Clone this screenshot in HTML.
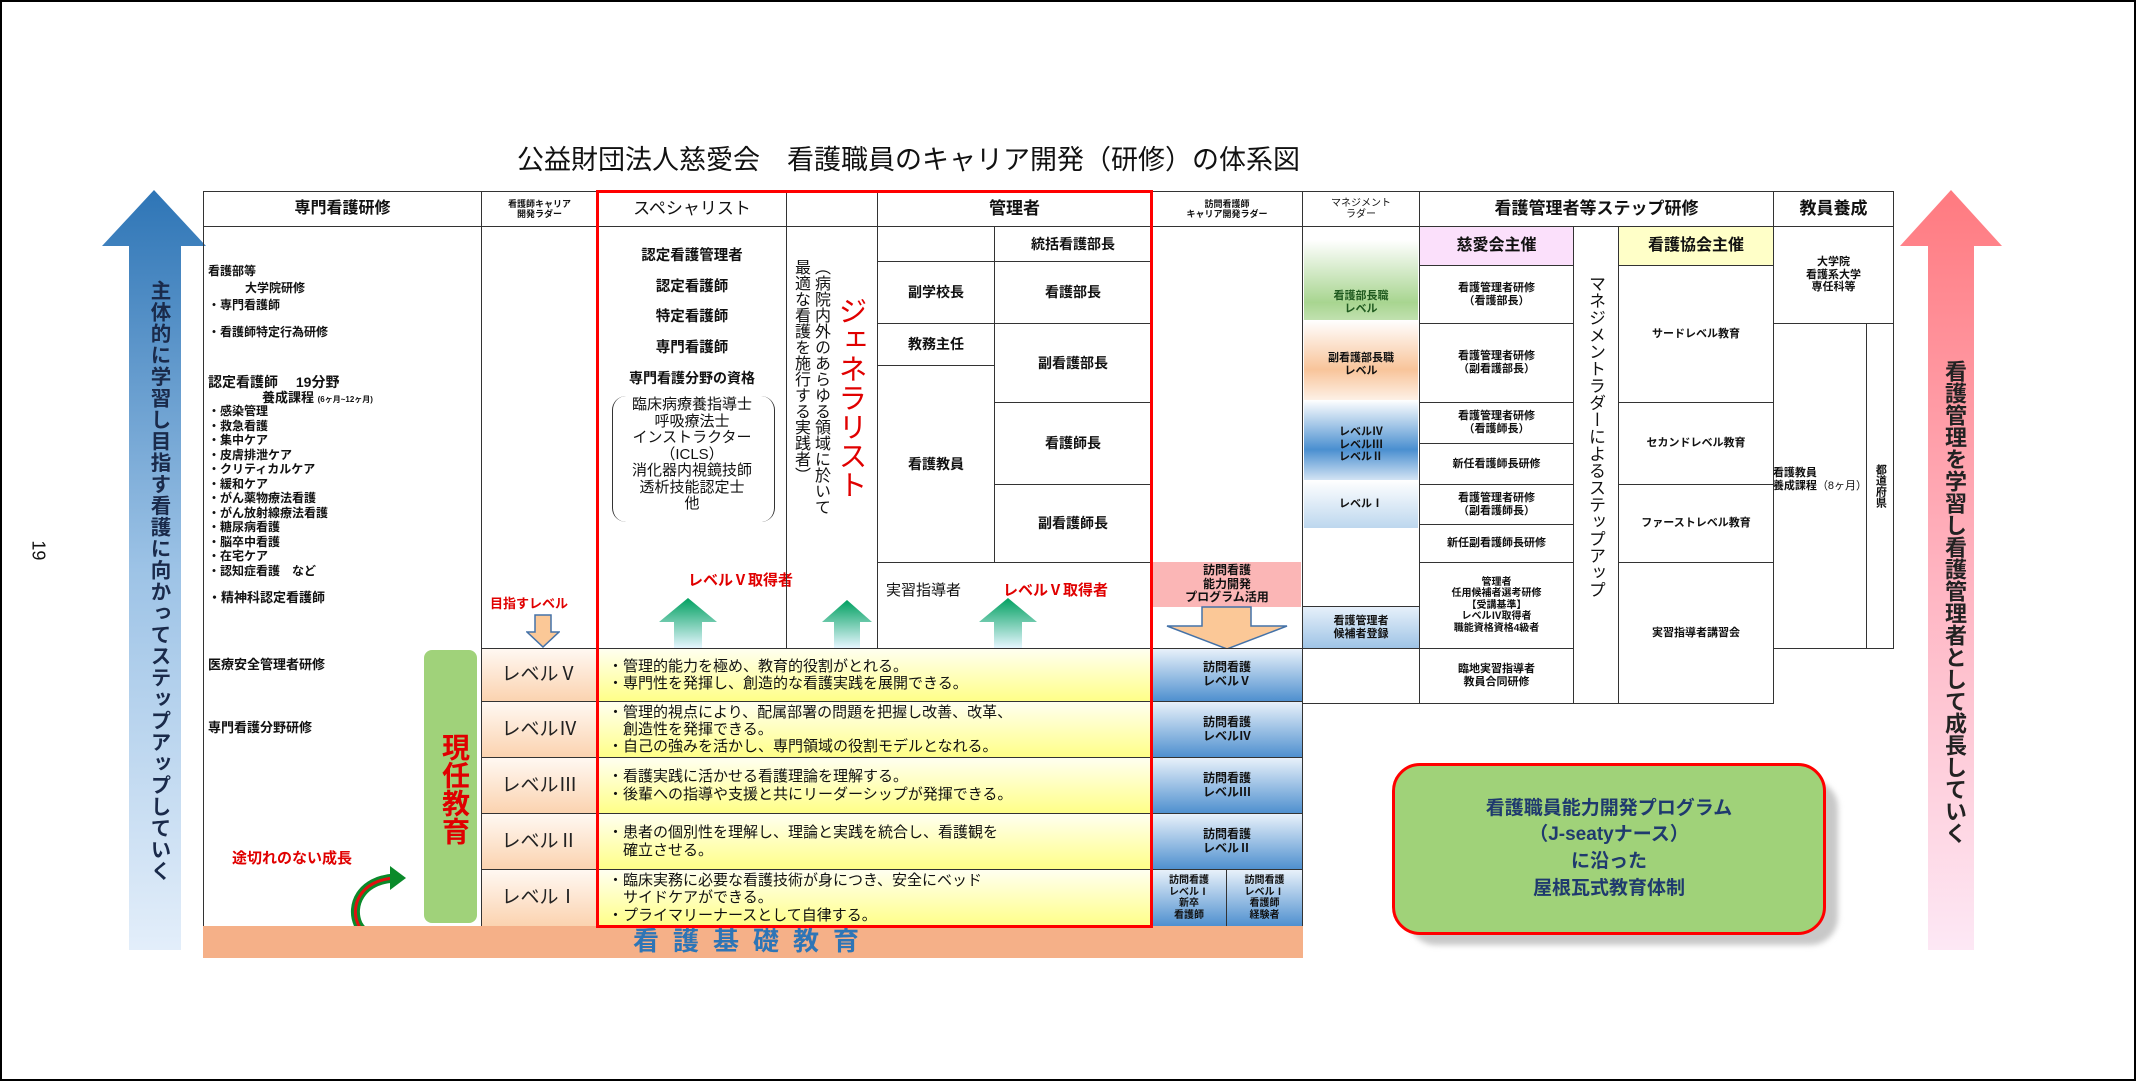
<!DOCTYPE html>
<html><head><meta charset="utf-8">
<style>
*{margin:0;padding:0;box-sizing:border-box}
body{width:2136px;height:1081px;position:relative;background:#fff;overflow:hidden;font-family:"Liberation Sans","Noto Sans CJK JP",sans-serif;color:#111}
.c{position:absolute;border:1.5px solid #333;display:flex;align-items:center;justify-content:center;text-align:center;font-weight:bold;line-height:1.15}
.t{position:absolute;font-weight:bold;white-space:nowrap;line-height:1.15}
.v{writing-mode:vertical-rl;position:absolute;font-weight:bold;white-space:nowrap}
.lv{background:linear-gradient(#fff8f2,#fbd3b0);font-size:19px;font-weight:normal;color:#222}
.yl{background:linear-gradient(#fffff0,#ffff88);justify-content:flex-start;text-align:left;padding-left:10px;font-size:15px;font-weight:normal}
.bl{background:linear-gradient(#e8f1fa,#4f90cf);font-size:12px}
.red{color:#e00000}
</style></head><body>
<div style="position:absolute;left:0;top:0;width:2136px;height:1081px;border:2px solid #000"></div>

<div class="t" style="left:517px;top:145px;font-size:27px;font-weight:normal">公益財団法人慈愛会　看護職員のキャリア開発（研修）の体系図</div>

<!-- left arrow -->
<svg style="position:absolute;left:100px;top:190px" width="108" height="762">
<defs><linearGradient id="g1" x1="0" y1="0" x2="0" y2="1"><stop offset="0" stop-color="#2e75b6"/><stop offset="0.5" stop-color="#9dc3e6"/><stop offset="1" stop-color="#e3eefa"/></linearGradient>
<linearGradient id="g2" x1="0" y1="0" x2="0" y2="1"><stop offset="0" stop-color="#ff7a80"/><stop offset="0.5" stop-color="#ffb3c0"/><stop offset="1" stop-color="#fde8f5"/></linearGradient></defs>
<polygon points="54,0 106,56 81,56 81,760 29,760 29,56 2,56" fill="url(#g1)"/></svg>
<div class="v" style="left:143px;top:280px;font-size:20.5px;letter-spacing:1px;color:#1a2a4a">主体的に学習し目指す看護に向かってステップアップしていく</div>
<div class="t" style="left:28px;top:540px;font-size:18px;font-weight:normal;transform:rotate(90deg)">19</div>

<!-- right arrow -->
<svg style="position:absolute;left:1898px;top:190px" width="106" height="762">
<polygon points="53,0 104,56 76,56 76,760 30,760 30,56 2,56" fill="url(#g2)"/></svg>
<div class="v" style="left:1938px;top:360px;font-size:22px;color:#222">看護管理を学習し看護管理者として成長していく</div>

<!-- header row -->
<div class="c" style="left:203px;top:191px;width:279px;height:36px;font-size:16px">専門看護研修</div>
<div class="c" style="left:481px;top:191px;width:117px;height:36px;font-size:9px">看護師キャリア<br>開発ラダー</div>
<div class="c" style="left:597px;top:191px;width:190px;height:36px;font-size:17px;font-weight:normal">スペシャリスト</div>
<div class="c" style="left:786px;top:191px;width:92px;height:36px"></div>
<div class="c" style="left:877px;top:191px;width:275px;height:36px;font-size:17px">管理者</div>
<div class="c" style="left:1151px;top:191px;width:152px;height:36px;font-size:9px">訪問看護師<br>キャリア開発ラダー</div>
<div class="c" style="left:1302px;top:191px;width:118px;height:36px;font-size:10px;font-weight:normal">マネジメント<br>ラダー</div>
<div class="c" style="left:1419px;top:191px;width:355px;height:36px;font-size:17px">看護管理者等ステップ研修</div>
<div class="c" style="left:1773px;top:191px;width:121px;height:36px;font-size:17px">教員養成</div>

<!-- left column body -->
<div class="c" style="left:203px;top:226px;width:279px;height:701px"></div>
<div class="t" style="left:208px;top:265px;font-size:12px">看護部等</div>
<div class="t" style="left:245px;top:282px;font-size:12px">大学院研修</div>
<div class="t" style="left:208px;top:299px;font-size:12px">・専門看護師</div>
<div class="t" style="left:208px;top:326px;font-size:12px">・看護師特定行為研修</div>
<div class="t" style="left:208px;top:374px;font-size:14px">認定看護師　 19分野</div>
<div class="t" style="left:262px;top:391px;font-size:13px">養成課程 <span style="font-size:8px">(6ヶ月~12ヶ月)</span></div>
<div style="position:absolute;left:208px;top:404px;font-size:12px;font-weight:bold;line-height:14.5px;white-space:pre">・感染管理
・救急看護
・集中ケア
・皮膚排泄ケア
・クリティカルケア
・緩和ケア
・がん薬物療法看護
・がん放射線療法看護
・糖尿病看護
・脳卒中看護
・在宅ケア
・認知症看護　など</div>
<div class="t" style="left:208px;top:591px;font-size:13px">・精神科認定看護師</div>
<div class="t" style="left:208px;top:658px;font-size:13px">医療安全管理者研修</div>
<div class="t" style="left:208px;top:721px;font-size:13px">専門看護分野研修</div>
<div class="c" style="left:424px;top:650px;width:53px;height:273px;background:#a0d27a;border:none;border-radius:8px;"></div>
<div class="v" style="left:434px;top:733px;font-size:28px;color:#e00000">現任教育</div>
<div class="t red" style="left:232px;top:850px;font-size:15px">途切れのない成長</div>
<svg style="position:absolute;left:340px;top:866px" width="70" height="80">
<path d="M55,12 C20,14 10,40 18,58 C24,70 40,74 55,74" fill="none" stroke="#0a8a2a" stroke-width="9"/>
<path d="M55,12 C20,14 10,40 18,58 C24,70 40,74 55,74" fill="none" stroke="#e01010" stroke-width="3"/>
<polygon points="50,0 66,12 50,24" fill="#0a8a2a"/></svg>

<!-- ladder col -->
<div class="c" style="left:481px;top:226px;width:117px;height:423px"></div>
<div class="t red" style="left:490px;top:597px;font-size:13px">目指すレベル</div>
<svg style="position:absolute;left:526px;top:614px" width="34" height="34"><polygon points="9,1 25,1 25,18 33,18 17,33 1,18 9,18" fill="#fbc897" stroke="#4472a8" stroke-width="1.5"/></svg>

<!-- specialist -->
<div class="c" style="left:597px;top:226px;width:190px;height:423px"></div>
<div class="t" style="left:597px;top:241px;width:190px;text-align:center;font-size:14.5px;line-height:30.5px">認定看護管理者<br>認定看護師<br>特定看護師<br>専門看護師<br><span style="font-size:14px">専門看護分野の資格</span></div>
<div style="position:absolute;left:612px;top:396px;width:163px;height:126px;border:1.5px solid #333;border-top:none;border-bottom:none;border-radius:14px"></div>
<div class="t" style="left:604px;top:397px;width:176px;text-align:center;font-size:15px;font-weight:normal;line-height:16.5px">臨床病療養指導士<br>呼吸療法士<br>インストラクター<br>（ICLS）<br>消化器内視鏡技師<br>透析技能認定士<br>他</div>
<div class="t red" style="left:688px;top:572px;font-size:15px">レベルⅤ取得者</div>

<!-- generalist -->
<div class="c" style="left:786px;top:226px;width:92px;height:423px"></div>
<div class="v" style="left:790px;top:259px;font-size:16px;line-height:20px;font-weight:normal">（病院内外のあらゆる領域に於いて<br>最適な看護を施行する実践者）</div>
<div class="v red" style="left:829px;top:296px;font-size:29px;font-weight:normal">ジェネラリスト</div>

<!-- manager -->
<div class="c" style="left:877px;top:226px;width:118px;height:36px"></div>
<div class="c" style="left:994px;top:226px;width:158px;height:36px;font-size:14px">統括看護部長</div>
<div class="c" style="left:877px;top:261px;width:118px;height:63px;font-size:14px">副学校長</div>
<div class="c" style="left:994px;top:261px;width:158px;height:63px;font-size:14px">看護部長</div>
<div class="c" style="left:877px;top:323px;width:118px;height:43px;font-size:14px">教務主任</div>
<div class="c" style="left:877px;top:365px;width:118px;height:198px;font-size:14px">看護教員</div>
<div class="c" style="left:994px;top:323px;width:158px;height:80px;font-size:14px">副看護部長</div>
<div class="c" style="left:994px;top:402px;width:158px;height:83px;font-size:14px">看護師長</div>
<div class="c" style="left:994px;top:484px;width:158px;height:79px;font-size:14px">副看護師長</div>
<div class="c" style="left:877px;top:562px;width:275px;height:87px"></div>
<div class="t" style="left:886px;top:582px;font-size:15px;font-weight:normal">実習指導者</div>
<div class="t red" style="left:1003px;top:582px;font-size:15px">レベルⅤ取得者</div>

<!-- green arrows -->
<svg style="position:absolute;left:0;top:0;pointer-events:none" width="2136" height="1081">
<defs><linearGradient id="ga" x1="0" y1="0" x2="0" y2="1"><stop offset="0" stop-color="#00a060"/><stop offset="1" stop-color="#e6f6ff"/></linearGradient></defs>
<polygon points="688,598 717,622 702,622 702,648 674,648 674,622 659,622" fill="url(#ga)"/>
<polygon points="847,600 872,622 860,622 860,648 834,648 834,622 822,622" fill="url(#ga)"/>
<polygon points="1008,598 1037,622 1022,622 1022,648 994,648 994,622 979,622" fill="url(#ga)"/>
</svg>

<!-- visiting -->
<div class="c" style="left:1151px;top:226px;width:152px;height:423px"></div>
<div class="c" style="left:1153px;top:562px;width:148px;height:45px;background:#fbb6b6;border:none;font-size:12px">訪問看護<br>能力開発<br>プログラム活用</div>
<svg style="position:absolute;left:1165px;top:606px" width="124" height="44"><polygon points="37,1 86,1 86,20 122,20 62,43 2,20 37,20" fill="#fbc897" stroke="#4472a8" stroke-width="1.5"/></svg>

<!-- levels -->
<div class="c lv" style="left:481px;top:648px;width:117px;height:54px">レベルⅤ</div>
<div class="c lv" style="left:481px;top:701px;width:117px;height:57px">レベルⅣ</div>
<div class="c lv" style="left:481px;top:757px;width:117px;height:57px">レベルⅢ</div>
<div class="c lv" style="left:481px;top:813px;width:117px;height:57px">レベルⅡ</div>
<div class="c lv" style="left:481px;top:869px;width:117px;height:58px">レベルⅠ</div>
<div class="c yl" style="left:597px;top:648px;width:555px;height:54px">・管理的能力を極め、教育的役割がとれる。<br>・専門性を発揮し、創造的な看護実践を展開できる。</div>
<div class="c yl" style="left:597px;top:701px;width:555px;height:57px">・管理的視点により、配属部署の問題を把握し改善、改革、<br>　創造性を発揮できる。<br>・自己の強みを活かし、専門領域の役割モデルとなれる。</div>
<div class="c yl" style="left:597px;top:757px;width:555px;height:57px">・看護実践に活かせる看護理論を理解する。<br>・後輩への指導や支援と共にリーダーシップが発揮できる。</div>
<div class="c yl" style="left:597px;top:813px;width:555px;height:57px">・患者の個別性を理解し、理論と実践を統合し、看護観を<br>　確立させる。</div>
<div class="c yl" style="left:597px;top:869px;width:555px;height:58px">・臨床実務に必要な看護技術が身につき、安全にベッド<br>　サイドケアができる。<br>・プライマリーナースとして自律する。</div>
<div class="c bl" style="left:1151px;top:648px;width:152px;height:54px">訪問看護<br>レベルⅤ</div>
<div class="c bl" style="left:1151px;top:701px;width:152px;height:57px">訪問看護<br>レベルⅣ</div>
<div class="c bl" style="left:1151px;top:757px;width:152px;height:57px">訪問看護<br>レベルⅢ</div>
<div class="c bl" style="left:1151px;top:813px;width:152px;height:57px">訪問看護<br>レベルⅡ</div>
<div class="c bl" style="left:1151px;top:869px;width:76px;height:58px;font-size:10px">訪問看護<br>レベルⅠ<br>新卒<br>看護師</div>
<div class="c bl" style="left:1226px;top:869px;width:77px;height:58px;font-size:10px">訪問看護<br>レベルⅠ<br>看護師<br>経験者</div>

<!-- base -->
<div class="c" style="left:203px;top:926px;width:1100px;height:32px;background:#f5b088;border:none;color:#2e75b6;font-size:26px;letter-spacing:14px">看護基礎教育</div>

<!-- red box -->
<div style="position:absolute;left:596px;top:190px;width:557px;height:738px;border:3px solid #ff0000"></div>

<!-- management ladder -->
<div class="c" style="left:1302px;top:226px;width:118px;height:478px"></div>
<div class="c" style="left:1304px;top:240px;width:114px;height:125px;background:linear-gradient(#fff,#a8d590 50%,#fff);border:none;font-size:11px;color:#1f5a1f">看護部長職<br>レベル</div>
<div class="c" style="left:1304px;top:320px;width:114px;height:90px;background:linear-gradient(#fff,#f8c49a 55%,#fff);border:none;font-size:11px">副看護部長職<br>レベル</div>
<div class="c" style="left:1304px;top:400px;width:114px;height:90px;background:linear-gradient(#fff,#4a8fd0 55%,#fff);border:none;font-size:11px">レベルⅣ<br>レベルⅢ<br>レベルⅡ</div>
<div class="c" style="left:1304px;top:480px;width:114px;height:48px;background:linear-gradient(#fff,#bdd7ee);border:none;font-size:11px">レベルⅠ</div>
<div class="c" style="left:1302px;top:606px;width:118px;height:43px;background:linear-gradient(#e6f0fa,#9fc4e6);font-size:11px">看護管理者<br>候補者登録</div>

<!-- step training -->
<div class="c" style="left:1419px;top:226px;width:155px;height:40px;background:#fbe0fb;font-size:16px">慈愛会主催</div>
<div class="c" style="left:1419px;top:265px;width:155px;height:59px;font-size:11px">看護管理者研修<br>（看護部長）</div>
<div class="c" style="left:1419px;top:323px;width:155px;height:80px;font-size:11px">看護管理者研修<br>（副看護部長）</div>
<div class="c" style="left:1419px;top:402px;width:155px;height:42px;font-size:11px">看護管理者研修<br>（看護師長）</div>
<div class="c" style="left:1419px;top:443px;width:155px;height:42px;font-size:11px">新任看護師長研修</div>
<div class="c" style="left:1419px;top:484px;width:155px;height:41px;font-size:11px">看護管理者研修<br>（副看護師長）</div>
<div class="c" style="left:1419px;top:524px;width:155px;height:39px;font-size:11px">新任副看護師長研修</div>
<div class="c" style="left:1419px;top:562px;width:155px;height:87px;font-size:10px">管理者<br>任用候補者選考研修<br>【受講基準】<br>レベルⅣ取得者<br>職能資格資格4級者</div>
<div class="c" style="left:1419px;top:648px;width:155px;height:56px;font-size:11px">臨地実習指導者<br>教員合同研修</div>
<div class="c" style="left:1573px;top:226px;width:46px;height:478px"></div>
<div class="v" style="left:1583px;top:275px;font-size:17px;font-weight:normal">マネジメントラダーによるステップアップ</div>
<div class="c" style="left:1618px;top:226px;width:156px;height:40px;background:#ffffc8;font-size:16px;border-bottom:1.5px dotted #333">看護協会主催</div>
<div class="c" style="left:1618px;top:265px;width:156px;height:138px;font-size:11px">サードレベル教育</div>
<div class="c" style="left:1618px;top:402px;width:156px;height:83px;font-size:11px">セカンドレベル教育</div>
<div class="c" style="left:1618px;top:484px;width:156px;height:79px;font-size:11px">ファーストレベル教育</div>
<div class="c" style="left:1618px;top:562px;width:156px;height:142px;font-size:11px">実習指導者講習会</div>

<!-- teacher -->
<div class="c" style="left:1773px;top:226px;width:121px;height:98px;font-size:11px">大学院<br>看護系大学<br>専任科等</div>
<div class="c" style="left:1773px;top:323px;width:94px;height:326px;font-size:11px;white-space:nowrap">看護教員<br>養成課程<br><br><span style="font-weight:normal">（8ヶ月）</span></div>
<div class="c" style="left:1866px;top:323px;width:28px;height:326px;font-size:11px;writing-mode:vertical-rl">都道府県</div>

<!-- green box -->
<div style="position:absolute;left:1408px;top:780px;width:430px;height:165px;background:#c8c8c8;border-radius:28px;filter:blur(3px)"></div>
<div class="c" style="left:1392px;top:763px;width:434px;height:172px;background:#a0d279;border:3px solid #ff0000;border-radius:28px;color:#1f3a6e;font-size:19px;line-height:1.4">看護職員能力開発プログラム<br>（J-seatyナース）<br>に沿った<br>屋根瓦式教育体制</div>
</body></html>
